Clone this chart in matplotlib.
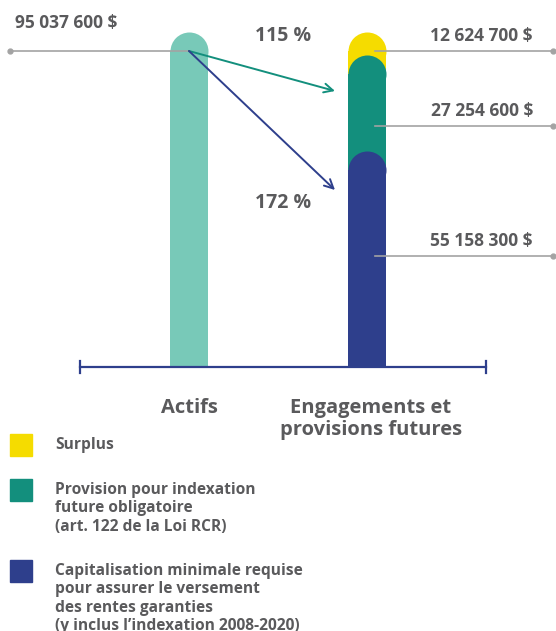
import matplotlib.pyplot as plt
from matplotlib.patches import Rectangle

# values in millions of $
actifs = 95.0376
segments = ["Capitalisation minimale requise", "Provision pour indexation", "Surplus"]
seg_values = [55.1583, 27.2546, 12.6247]
seg_labels = ["55 158 300 $", "27 254 600 $", "12 624 700 $"]
actifs_label = "95 037 600 $"
categories = ["Actifs", "Engagements et\nprovisions futures"]
ratios = ["115 %", "172 %"]
legend_texts = [
    "Surplus",
    "Provision pour indexation\nfuture obligatoire\n(art. 122 de la Loi RCR)",
    "Capitalisation minimale requise\npour assurer le versement\ndes rentes garanties\n(y inclus l\u2019indexation 2008-2020)",
]

YELLOW = "#F5DC00"
GREEN = "#138F7D"
NAVY = "#2E3F8C"
TEAL = "#78C9B8"
GREY_TXT = "#5A5A5C"
GREY_LINE = "#A3A3A3"
seg_colors = [NAVY, GREEN, YELLOW]

plt.rcParams["font.family"] = ["Open Sans", "DejaVu Sans"]

W, H = 556, 631
fig = plt.figure(figsize=(W / 100, H / 100), dpi=100)
ax = fig.add_axes([0, 0, 1, 1])
ax.axis("off")

# scale: x unit = 178 px, category 0 at px 189; y: 0 at px 367 from top, 95.04 at px 32
px_x = 178.0
px_y = (367 - 32) / actifs
ax.set_xlim(-189 / px_x, (W - 189) / px_x)
ax.set_ylim(-(H - 367) / px_y, 367 / px_y)

def fx(px):
    return px / W

def fy(py):
    return 1 - py / H

bar_w = 38 / px_x
r = bar_w / 2 * px_x / px_y  # cap radius in y units
cap_ms = 38 * 72 / 100

# Actifs bar
ax.bar(0, actifs - r, width=bar_w, color=TEAL, zorder=2)
ax.plot(0, actifs - r, "o", ms=cap_ms, color=TEAL, mew=0, zorder=2)

# stacked bar, drawn from top segment to bottom so lower caps overlap upper ones
cum = [sum(seg_values[:i + 1]) for i in range(len(seg_values))]
for i in reversed(range(len(seg_values))):
    top = cum[i]
    centre = top - r if i == len(seg_values) - 1 else top + 0.15 * r
    ax.bar(1, centre, width=bar_w, color=seg_colors[i], zorder=3 + (2 - i))
    ax.plot(1, centre, "o", ms=cap_ms, color=seg_colors[i], mew=0, zorder=3 + (2 - i))

# base axis
ax.plot([-109 / px_x, 297 / px_x], [0, 0], color=NAVY, lw=1.6, zorder=6)
for xe in [-109 / px_x, 297 / px_x]:
    ax.plot([xe, xe], [-6 / px_y, 6 / px_y], color=NAVY, lw=1.6, zorder=6)

# leader lines
y_lead = actifs - r
ax.plot([-179 / px_x, 0], [y_lead, y_lead], color=GREY_LINE, lw=1.2, zorder=7)
ax.plot(-179 / px_x, y_lead, "o", ms=3.5, color=GREY_LINE, zorder=7)
fig.text(fx(15), fy(23), actifs_label, ha="left", va="center", fontsize=12.5,
         fontweight="bold", color=GREY_TXT)

lead_y = [(367 - 256) / px_y, (367 - 126) / px_y, y_lead]
for i in range(len(seg_values)):
    yy = lead_y[i]
    ax.plot([1 + 8 / px_x, 364 / px_x], [yy, yy], color=GREY_LINE, lw=1.2, zorder=8)
    ax.plot(364 / px_x, yy, "o", ms=3.5, color=GREY_LINE, zorder=8)
    ax.text(344 / px_x, yy + 15 / px_y, seg_labels[i], ha="right", va="center",
            fontsize=12.5, fontweight="bold", color=GREY_TXT)

# arrows
ax.annotate("", xy=(146 / px_x, (367 - 91) / px_y), xytext=(0, y_lead),
            arrowprops=dict(arrowstyle="->", color=GREEN, lw=1.4,
                            mutation_scale=16, shrinkA=0, shrinkB=0), zorder=9)
ax.annotate("", xy=(146 / px_x, (367 - 190) / px_y), xytext=(0, y_lead),
            arrowprops=dict(arrowstyle="->", color=NAVY, lw=1.4,
                            mutation_scale=16, shrinkA=0, shrinkB=0), zorder=9)
fig.text(fx(283), fy(36), ratios[0], ha="center", va="center", fontsize=14,
         fontweight="bold", color=GREY_TXT)
fig.text(fx(283), fy(203), ratios[1], ha="center", va="center", fontsize=14,
         fontweight="bold", color=GREY_TXT)

# category labels
for i, c in enumerate(categories):
    ax.text(i + (4 / px_x) * i, -31 / px_y, c, ha="center", va="top", fontsize=14.5,
            fontweight="bold", color=GREY_TXT, linespacing=1.1)

# legend
leg_sq_y = [434, 479, 560]
leg_colors = [YELLOW, GREEN, NAVY]
for sy, col, txt in zip(leg_sq_y, leg_colors, legend_texts):
    fig.patches.append(Rectangle((fx(10), fy(sy + 22)), 22 / W, 22 / H,
                                 transform=fig.transFigure, color=col))
    fig.text(fx(55), fy(sy + 3), txt, ha="left", va="top", fontsize=11.2,
             fontweight="bold", color=GREY_TXT, linespacing=1.2)

fig.savefig("out.png", dpi=100)
